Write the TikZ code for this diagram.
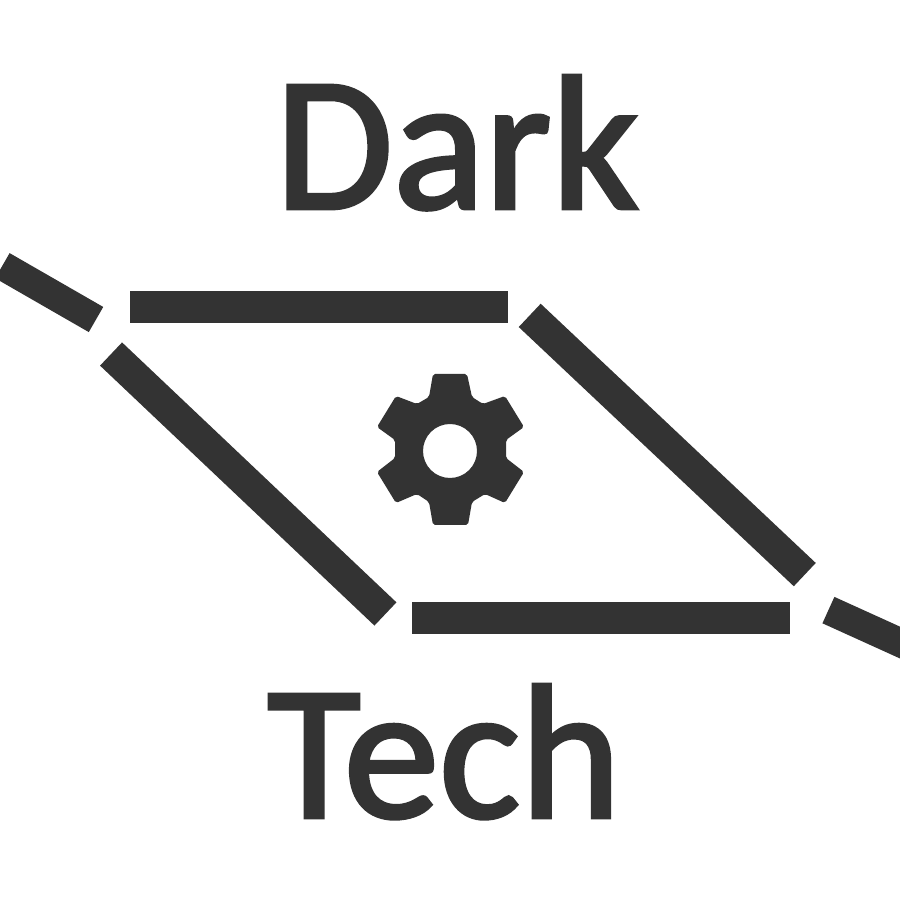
\documentclass[tikz,border=0pt]{standalone}
\usepackage{fontspec}
\newfontfamily\wordfont[FakeBold=2]{Carlito}
\definecolor{darkgrey}{HTML}{333333}
\tikzset{
  bar/.style = {rectangle,
      fill = darkgrey,
      inner sep = 0pt,
      minimum width = 3.78cm,
      minimum height = 0.32cm},
  stub/.style = {rectangle,
      fill = darkgrey,
      inner sep = 0pt,
      minimum width = 1.08cm,
      minimum height = 0.29cm},
  word/.style = {anchor = base,
      inner sep = 0pt,
      text = darkgrey,
      font = \fontsize{54.5}{60}\wordfont},
}
\begin{document}
\begin{tikzpicture}
  \path[use as bounding box, clip] (0,0) rectangle (9,9);

% words
  \node[word] (dark) at (4.57,6.915) {Dark};
  \node[word] (tech) at (4.44,0.825) {Tech};

% parallelogram
  \node[bar] (topbar) at (3.19,5.93) {};
  \node[bar] (bottombar) at (6.01,2.82) {};
  \node[bar, rotate = -43.45] (leftbar) at (2.4825,4.16) {};
  \node[bar, rotate = -43.3] (rightbar) at (6.6725,4.55) {};

% ends running off the picture
  \node[stub, rotate = -29.9] (leftstub) at (0.492,6.074) {};
  \node[stub, rotate = -24.4] (rightstub) at (8.776,2.676) {};

% gear
  \fill[darkgrey, even odd rule, rounded corners = 0.02cm]
    (4.33,5.26) -- (4.67,5.26) -- (4.72,5.03) -- (4.83,4.96)
    -- (5.05,5.04) -- (5.24,4.73) -- (5.06,4.60) -- (5.06,4.42)
    -- (5.24,4.28) -- (5.05,3.97) -- (4.85,4.06) -- (4.72,3.98)
    -- (4.68,3.75) -- (4.33,3.75) -- (4.29,3.98) -- (4.17,4.06)
    -- (3.96,3.97) -- (3.77,4.28) -- (3.95,4.42) -- (3.95,4.60)
    -- (3.77,4.73) -- (3.96,5.04) -- (4.17,4.96) -- (4.29,5.03)
    -- cycle
    (4.5,4.49) circle (0.27);
\end{tikzpicture}
\end{document}
